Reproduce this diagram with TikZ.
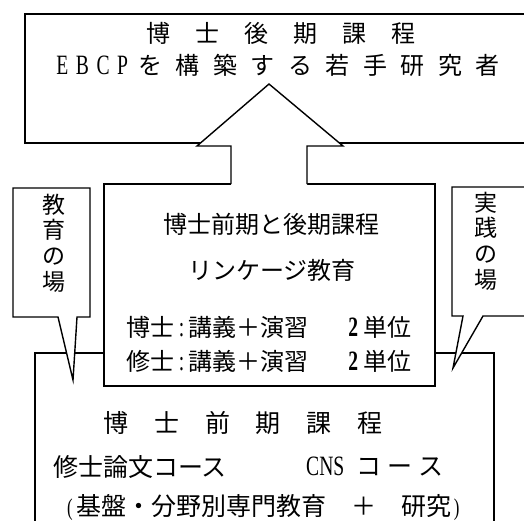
\documentclass[tikz,border=0pt]{standalone}
\usepackage{fontspec}
\newfontfamily\jp{Noto Sans CJK JP}
\newfontfamily\lat[FakeStretch=0.7]{Liberation Serif}
\newcommand\latin[1]{{\lat\fontsize{28pt}{30pt}\selectfont #1}}
\newcommand\paren[1]{{\lat\fontsize{24pt}{26pt}\selectfont #1}}
\makeatletter
\newcommand\spreadtext[2]{\def\spr@gap{#1}\@tfor\spr@c:=#2\do{\spr@c\hspace{\spr@gap}}\unskip}
\makeatother
\begin{document}
\begin{tikzpicture}[x=1pt,y=-1pt,
  panel/.style={draw=black, fill=white, line width=1.4pt, line join=miter},
  edge/.style={draw=black, line width=1.4pt, line join=miter},
  txt/.style={inner sep=0pt, font=\jp\fontsize{24pt}{28pt}\selectfont},
  big/.style={inner sep=0pt, font=\jp\fontsize{25pt}{28pt}\selectfont},
  vert/.style={inner sep=0pt, align=center, font=\jp\fontsize{23pt}{25.8pt}\selectfont}]
\useasboundingbox (0,0) rectangle (524,520);
\clip (0,0) rectangle (524,520);
% top box
\draw[panel, line width=1.9pt] (25,14) rectangle (545,143);
% bottom box
\draw[panel] (35,560) -- (35,353) -- (494,353) -- (494,560);
% middle box
\draw[panel] (104,184) rectangle (435,386);
% big arrow
\coordinate (aL) at (231,184);
\coordinate (aR) at (307,184);
\coordinate (tip) at (269,84);
\fill[white] (231,187) -- (231,146) -- (197,146) -- (tip) -- (343,146) -- (307,146) -- (307,187) -- cycle;
\draw[edge] (aL) -- (231,146) -- (197,146) -- (tip) -- (343,146) -- (307,146) -- (aR);
% callouts
\draw[panel] (58,317) -- (13,317) -- (13,188) -- (90,188) -- (90,317) -- (77,317) -- (73,380) -- cycle;
\draw[panel] (463,316) -- (452,316) -- (452,187) -- (560,187) -- (560,316) -- (483,316) -- (453,368) -- cycle;
% texts
\node[txt] (t1) at (281,33.5) {\spreadtext{25pt}{博士後期課程}};
\node[txt] (t2) at (278,65.5) {\latin{\spreadtext{7.5pt}{EBCP}}\hspace{10pt}\spreadtext{13.5pt}{を構築する若手研究者}};
\node[txt] (m1) at (271,224) {博士前期と後期課程};
\node[txt] (m2) at (272,270) {リンケージ教育};
\node[txt] (m3) at (269,327) {博士\hspace{4pt}\latin{:}\hspace{4pt}講義＋演習　\hspace{16pt}\latin{\bfseries 2}\hspace{5pt}単位};
\node[txt] (m4) at (269,361) {修士\hspace{4pt}\latin{:}\hspace{4pt}講義＋演習　\hspace{16pt}\latin{\bfseries 2}\hspace{5pt}単位};
\node[big] (b1) at (243,422.5) {\spreadtext{25.7pt}{博士前期課程}};
\node[big, anchor=west] (b2) at (53,467) {修士論文コース};
\node[big, anchor=west] (b3) at (306,467) {\latin{CNS}\hspace{12pt}\spreadtext{6pt}{コース}};
\node[big, anchor=north west] (b4) at (67,494) {\paren{(}\hspace{4pt}基盤・分野別専門教育　＋　研究\hspace{2pt}\paren{)}};
\node[vert] (c1) at (53.5,243) {教\\育\\の\\場};
\node[vert] (c2) at (486,241) {実\\践\\の\\場};
\end{tikzpicture}
\end{document}
